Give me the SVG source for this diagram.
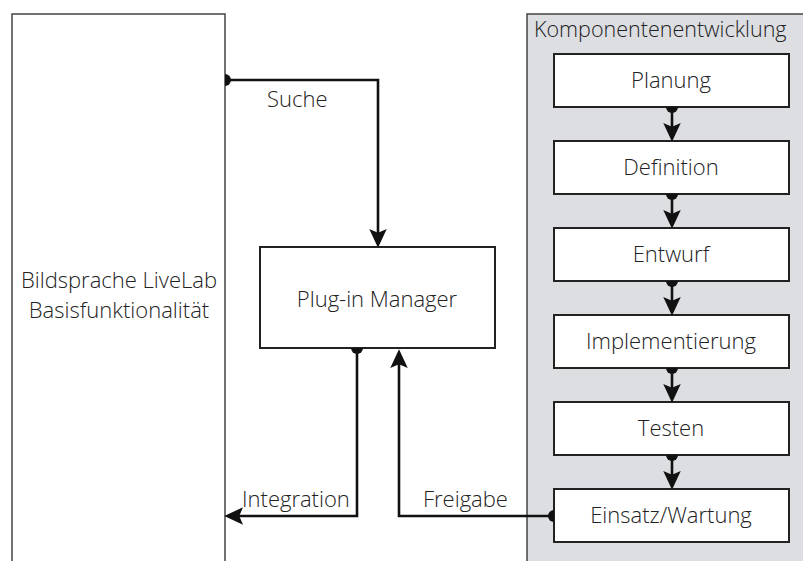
<svg xmlns="http://www.w3.org/2000/svg" width="803" height="561" viewBox="0 0 803 561">
  <style>
    .lbl { font-family: "Open Sans", "Noto Sans", "Liberation Sans", sans-serif; font-size: 22px; font-weight: 300; fill: #222; }
    .mid { text-anchor: middle; }
    .box { fill: #ffffff; stroke: #222; stroke-width: 2; }
    .wire { fill: none; stroke: #111; stroke-width: 2.6; marker-start: url(#dot); marker-end: url(#arrow); }
  </style>
  <defs>
    <marker id="arrow" markerUnits="userSpaceOnUse" markerWidth="20" markerHeight="20" viewBox="-12 -7 16 14" refX="0" refY="0" orient="auto" overflow="visible">
      <path d="M3,0 L-12,-7 L-9,0 L-12,7 Z" fill="#111"/>
    </marker>
    <marker id="dot" markerUnits="userSpaceOnUse" markerWidth="12" markerHeight="12" viewBox="-1 -6 8 12" refX="0" refY="0" orient="auto" overflow="visible">
      <path d="M0,-6 A6,6 0 0 1 0,6 Z" fill="#111"/>
    </marker>
  </defs>

  <rect width="803" height="561" fill="#ffffff"/>

  <!-- base system column -->
  <g id="livelab">
    <path d="M12,561 V14 H225 V561" fill="#ffffff" stroke="#444" stroke-width="1.5"/>
    <text class="lbl mid" x="119" y="288">Bildsprache LiveLab</text>
    <text class="lbl mid" x="119" y="318">Basisfunktionalität</text>
  </g>

  <!-- component development lane -->
  <g id="komponentenentwicklung">
    <path d="M527,561 V14 H803 V561 Z" fill="#dcdee2" stroke="none"/>
    <path d="M527,561 V14 H803" fill="none" stroke="#444" stroke-width="1.5"/>
    <text class="lbl" x="534" y="37" style="font-size:21.5px">Komponentenentwicklung</text>
  </g>

  <g id="plugin-manager">
    <rect class="box" x="260" y="247" width="235" height="101"/>
    <text class="lbl mid" x="377" y="307">Plug-in Manager</text>
  </g>

  <g id="planung">
    <rect class="box" x="554" y="54" width="235" height="53"/>
    <text class="lbl mid" x="671" y="88">Planung</text>
  </g>
  <g id="definition">
    <rect class="box" x="554" y="141" width="235" height="53"/>
    <text class="lbl mid" x="671" y="175">Definition</text>
  </g>
  <g id="entwurf">
    <rect class="box" x="554" y="228" width="235" height="53"/>
    <text class="lbl mid" x="671" y="262">Entwurf</text>
  </g>
  <g id="implementierung">
    <rect class="box" x="554" y="315" width="235" height="53"/>
    <text class="lbl mid" x="671" y="349">Implementierung</text>
  </g>
  <g id="testen">
    <rect class="box" x="554" y="402" width="235" height="53"/>
    <text class="lbl mid" x="671" y="436">Testen</text>
  </g>
  <g id="einsatz-wartung">
    <rect class="box" x="554" y="489" width="235" height="53"/>
    <text class="lbl mid" x="671" y="523">Einsatz/Wartung</text>
  </g>

  <!-- connectors -->
  <g id="connectors">
    <path class="wire" d="M225,80 H378 V244"/>
    <path class="wire" d="M357,348 V516 H228"/>
    <path class="wire" d="M554,516 H399 V353"/>
    <path class="wire" d="M672,107 V138"/>
    <path class="wire" d="M672,194 V225"/>
    <path class="wire" d="M672,281 V312"/>
    <path class="wire" d="M672,368 V399"/>
    <path class="wire" d="M672,455 V486"/>
    <text class="lbl" x="267" y="107">Suche</text>
    <text class="lbl" x="242" y="507">Integration</text>
    <text class="lbl" x="423" y="507">Freigabe</text>
  </g>
</svg>
